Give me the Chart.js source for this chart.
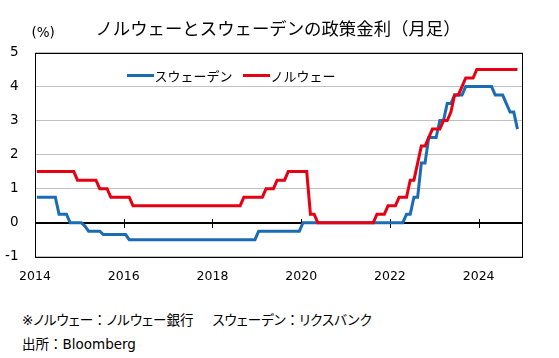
<html lang="ja">

<head>
    <meta charset="UTF-8" />
    <title>ノルウェーとスウェーデンの政策金利</title>
    <style>
        body {
            margin: 0;
            background: #fff;
            width: 559px;
            height: 358px;
            position: relative;
            overflow: hidden;
        }
        .chartBox {
            position: absolute;
            left: 0;
            top: 0;
            width: 559px;
            height: 300px;
        }
        .note {
            position: absolute;
            left: 22px;
            font-family: "DejaVu Sans", "Noto Sans CJK JP", sans-serif;
            font-size: 13.5px;
            font-feature-settings: "palt";
            color: #000;
            white-space: pre;
            line-height: 18px;
        }
        .note .c {
            font-family: "Noto Sans CJK JP";
            font-feature-settings: normal;
        }
    </style>
</head>

<body>
    <div class="chartBox">
        <canvas id="myChart"></canvas>
    </div>
    <div class="note" style="top: 310px;">※ノルウェー<span class="c">：</span>ノルウェー銀行<span style="display:inline-block;width:19px"></span>スウェーデン<span class="c">：</span>リクスバンク</div>
    <div class="note" style="top: 334px;">出所<span class="c">：</span>Bloomberg</div>

    <script src="https://cdn.jsdelivr.net/npm/chart.js"></script>

    <script>
        // data (month-end policy rates, Jan 2014 - Nov 2024)
        const startYear = 2014;
        const yearTicks = [2014, 2016, 2018, 2020, 2022, 2024];
        const yTicks = [-1, 0, 1, 2, 3, 4, 5];

        const sweden = [
            0.75, 0.75, 0.75, 0.75, 0.75, 0.75, 0.25, 0.25, 0.25, 0, 0, 0,
            0, -0.1, -0.25, -0.25, -0.25, -0.25, -0.35, -0.35, -0.35, -0.35, -0.35, -0.35,
            -0.35, -0.5, -0.5, -0.5, -0.5, -0.5, -0.5, -0.5, -0.5, -0.5, -0.5, -0.5,
            -0.5, -0.5, -0.5, -0.5, -0.5, -0.5, -0.5, -0.5, -0.5, -0.5, -0.5, -0.5,
            -0.5, -0.5, -0.5, -0.5, -0.5, -0.5, -0.5, -0.5, -0.5, -0.5, -0.5, -0.5,
            -0.25, -0.25, -0.25, -0.25, -0.25, -0.25, -0.25, -0.25, -0.25, -0.25, -0.25, -0.25,
            0, 0, 0, 0, 0, 0, 0, 0, 0, 0, 0, 0,
            0, 0, 0, 0, 0, 0, 0, 0, 0, 0, 0, 0,
            0, 0, 0, 0, 0.25, 0.25, 0.75, 0.75, 1.75, 1.75, 2.5, 2.5,
            2.5, 3.0, 3.0, 3.5, 3.5, 3.75, 3.75, 3.75, 4.0, 4.0, 4.0, 4.0,
            4.0, 4.0, 4.0, 4.0, 3.75, 3.75, 3.75, 3.5, 3.25, 3.25, 2.75
        ];

        const norway = [
            1.5, 1.5, 1.5, 1.5, 1.5, 1.5, 1.5, 1.5, 1.5, 1.5, 1.5, 1.25,
            1.25, 1.25, 1.25, 1.25, 1.25, 1.0, 1.0, 1.0, 0.75, 0.75, 0.75, 0.75,
            0.75, 0.75, 0.5, 0.5, 0.5, 0.5, 0.5, 0.5, 0.5, 0.5, 0.5, 0.5,
            0.5, 0.5, 0.5, 0.5, 0.5, 0.5, 0.5, 0.5, 0.5, 0.5, 0.5, 0.5,
            0.5, 0.5, 0.5, 0.5, 0.5, 0.5, 0.5, 0.5, 0.75, 0.75, 0.75, 0.75,
            0.75, 0.75, 1.0, 1.0, 1.0, 1.25, 1.25, 1.25, 1.5, 1.5, 1.5, 1.5,
            1.5, 1.5, 0.25, 0.25, 0, 0, 0, 0, 0, 0, 0, 0,
            0, 0, 0, 0, 0, 0, 0, 0, 0.25, 0.25, 0.25, 0.5,
            0.5, 0.5, 0.75, 0.75, 0.75, 1.25, 1.25, 1.75, 2.25, 2.25, 2.5, 2.75,
            2.75, 2.75, 3.0, 3.0, 3.25, 3.75, 3.75, 4.0, 4.25, 4.25, 4.25, 4.5,
            4.5, 4.5, 4.5, 4.5, 4.5, 4.5, 4.5, 4.5, 4.5, 4.5, 4.5
        ];

        const seriesNames = ["スウェーデン", "ノルウェー"];
        const seriesColors = ["#1a6cb4", "#e60012"];

        // month i sits in the middle of its month on a year axis
        const toPoints = (arr) => arr.map((v, i) => ({ x: startYear + (i + 0.5) / 12, y: v }));

        // title, unit label, legend, frame and zero-line ticks
        const decor = {
            id: "decor",
            beforeDatasetsDraw(chart) {
                const { ctx, chartArea: a, scales } = chart;
                const y0 = Math.round(scales.y.getPixelForValue(0)) + 0.5;
                ctx.save();
                ctx.strokeStyle = "#000";
                ctx.lineWidth = 1;
                ctx.beginPath();
                ctx.moveTo(a.left, y0);
                ctx.lineTo(a.right, y0);
                yearTicks.forEach((yr) => {
                    const x = Math.round(scales.x.getPixelForValue(yr)) + 0.5;
                    ctx.moveTo(x, y0 - 4.5);
                    ctx.lineTo(x, y0 + 4.5);
                });
                ctx.stroke();
                ctx.strokeRect(Math.round(a.left) + 0.5, Math.round(a.top) + 0.5,
                    Math.round(a.right - a.left) - 1, Math.round(a.bottom - a.top));
                ctx.restore();
            },
            afterDraw(chart) {
                const ctx = chart.ctx;
                ctx.save();
                ctx.fillStyle = "#000";
                ctx.textBaseline = "middle";
                ctx.textAlign = "center";
                ctx.font = "17.4px 'Noto Sans CJK JP'";
                ctx.fillText("ノルウェーとスウェーデンの政策金利（月足）", 278, 28);
                ctx.textAlign = "left";
                ctx.font = "13.5px 'DejaVu Sans'";
                ctx.fillText("(%)", 31.5, 33);

                // legend inside the plot
                const items = [
                    { x: 127, w: 27 },
                    { x: 243, w: 27 }
                ];
                ctx.font = "13px 'Noto Sans CJK JP'";
                items.forEach((it, i) => {
                    ctx.strokeStyle = seriesColors[i];
                    ctx.lineWidth = 3;
                    ctx.beginPath();
                    ctx.moveTo(it.x, 75.5);
                    ctx.lineTo(it.x + it.w, 75.5);
                    ctx.stroke();
                    ctx.fillText(seriesNames[i], it.x + it.w + 0.5, 76);
                });
                ctx.restore();
            }
        };

        // config
        const config = {
            type: "line",
            data: {
                datasets: [
                    {
                        label: seriesNames[0],
                        data: toPoints(sweden),
                        borderColor: seriesColors[0],
                        order: 1,
                    },
                    {
                        label: seriesNames[1],
                        data: toPoints(norway),
                        borderColor: seriesColors[1],
                        order: 0,
                    },
                ],
            },
            options: {
                responsive: true,
                maintainAspectRatio: false,
                animation: false,
                elements: {
                    line: { borderWidth: 3, tension: 0, borderJoinStyle: "miter" },
                    point: { radius: 0 },
                },
                layout: { padding: { top: 52.5, right: 36, left: 0, bottom: 0 } },
                plugins: {
                    legend: { display: false },
                    title: { display: false },
                    tooltip: { enabled: false },
                },
                scales: {
                    x: {
                        type: "linear",
                        min: 2014,
                        max: 2025,
                        afterBuildTicks: (scale) => {
                            scale.ticks = yearTicks.map((v) => ({ value: v }));
                        },
                        afterFit: (scale) => {
                            scale.height = 43.3;
                        },
                        grid: { display: false, drawTicks: false },
                        border: { display: false },
                        ticks: {
                            padding: 12.5,
                            maxRotation: 0,
                            autoSkip: false,
                            color: "#000",
                            font: { family: "DejaVu Sans", size: 12.5 },
                            callback: (v) => String(v),
                        },
                    },
                    y: {
                        min: -1,
                        max: 5,
                        afterBuildTicks: (scale) => {
                            scale.ticks = yTicks.map((v) => ({ value: v }));
                        },
                        afterFit: (scale) => {
                            scale.width = 35;
                        },
                        grid: {
                            drawTicks: false,
                            color: (c) => (c.tick && c.tick.value === 0 ? "#000" : "#c0c0c0"),
                        },
                        border: { display: false },
                        ticks: {
                            padding: 16.5,
                            color: "#000",
                            font: { family: "DejaVu Sans", size: 13.5 },
                        },
                    },
                },
            },
            plugins: [decor],
        };

        // render
        const myChart = new Chart(document.getElementById("myChart"), config);
    </script>
</body>

</html>
